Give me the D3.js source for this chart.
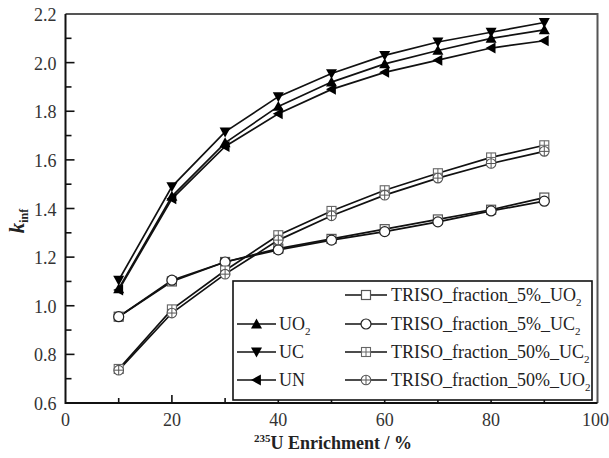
<!DOCTYPE html>
<html><head><meta charset="utf-8">
<script src="https://cdn.jsdelivr.net/npm/d3@7"></script>
<style>
html,body{margin:0;padding:0;background:#fff;}
svg{display:block;}
</style></head>
<body>
<svg id="chart" width="609" height="458"></svg>
<script>
const enrichment = [10,20,30,40,50,60,70,80,90];
const uo2  = [1.07, 1.45, 1.67, 1.82, 1.92, 1.995, 2.05, 2.10, 2.135];
const uc   = [1.105, 1.49, 1.715, 1.86, 1.955, 2.03, 2.085, 2.125, 2.165];
const un   = [1.065, 1.44, 1.655, 1.79, 1.89, 1.96, 2.01, 2.06, 2.09];
const triso5UO2  = [0.955, 1.10, 1.18, 1.235, 1.275, 1.315, 1.355, 1.395, 1.445];
const triso5UC2  = [0.955, 1.105, 1.18, 1.23, 1.27, 1.305, 1.345, 1.39, 1.43];
const triso50UC2 = [0.74, 0.985, 1.145, 1.29, 1.39, 1.475, 1.545, 1.61, 1.66];
const triso50UO2 = [0.735, 0.97, 1.13, 1.27, 1.37, 1.455, 1.525, 1.585, 1.635];
const xTicks = [0,20,40,60,80,100];
const yTicks = [0.6,0.8,1.0,1.2,1.4,1.6,1.8,2.0,2.2];

const series = [
  {name:"TRISO_fraction_5%_UO", sub:"2", vals:triso5UO2, marker:"square"},
  {name:"TRISO_fraction_5%_UC", sub:"2", vals:triso5UC2, marker:"circle"},
  {name:"TRISO_fraction_50%_UC", sub:"2", vals:triso50UC2, marker:"squarePlus"},
  {name:"TRISO_fraction_50%_UO", sub:"2", vals:triso50UO2, marker:"circlePlus"},
  {name:"UO", sub:"2", vals:uo2, marker:"triUp"},
  {name:"UC", sub:"", vals:uc, marker:"triDown"},
  {name:"UN", sub:"", vals:un, marker:"triLeft"}
];

const FONT = '"Liberation Serif"';
const svg = d3.select("#chart");
const L=65.5, R=597.5, T=14, B=403;
const x = d3.scaleLinear().domain([0,100]).range([L,R]);
const y = d3.scaleLinear().domain([0.6,2.2]).range([B,T]);

function drawMarker(g, type, cx, cy){
  const s=5.5;
  if(type==="triUp"){
    g.append("path").attr("d",`M${cx},${cy-s}L${cx+s},${cy+s*0.8}L${cx-s},${cy+s*0.8}Z`).attr("fill","#000");
  } else if(type==="triDown"){
    g.append("path").attr("d",`M${cx},${cy+s}L${cx+s},${cy-s*0.8}L${cx-s},${cy-s*0.8}Z`).attr("fill","#000");
  } else if(type==="triLeft"){
    g.append("path").attr("d",`M${cx-s},${cy}L${cx+s*0.8},${cy-s}L${cx+s*0.8},${cy+s}Z`).attr("fill","#000");
  } else if(type==="circle"){
    g.append("circle").attr("cx",cx).attr("cy",cy).attr("r",5).attr("fill","#fff").attr("stroke","#222").attr("stroke-width",1.2);
  } else if(type==="square"){
    g.append("rect").attr("x",cx-4.5).attr("y",cy-4.5).attr("width",9).attr("height",9).attr("fill","#fff").attr("stroke","#555").attr("stroke-width",1.2);
  } else if(type==="squarePlus"){
    g.append("rect").attr("x",cx-4.5).attr("y",cy-4.5).attr("width",9).attr("height",9).attr("fill","#fff").attr("stroke","#666").attr("stroke-width",1.1);
    g.append("path").attr("d",`M${cx-4.5},${cy}H${cx+4.5}M${cx},${cy-4.5}V${cy+4.5}`).attr("stroke","#666").attr("stroke-width",1);
  } else if(type==="circlePlus"){
    g.append("circle").attr("cx",cx).attr("cy",cy).attr("r",4.8).attr("fill","#fff").attr("stroke","#555").attr("stroke-width",1.1);
    g.append("path").attr("d",`M${cx-4.8},${cy}H${cx+4.8}M${cx},${cy-4.8}V${cy+4.8}`).attr("stroke","#555").attr("stroke-width",1);
  }
}

// x axis: inward ticks
const gx = svg.append("g").attr("transform",`translate(0,${B})`);
gx.selectAll("line.t").data(d3.range(10,100,10)).join("line")
  .attr("x1",d=>x(d)).attr("x2",d=>x(d)).attr("y1",0).attr("y2",d=>d%20===0?-8:-5)
  .attr("stroke","#111").attr("stroke-width",1.6);
gx.selectAll("text").data(xTicks).join("text")
  .attr("x",d=>d===100?609:x(d)).attr("y",23).attr("text-anchor",d=>d===100?"end":"middle")
  .style("font-family",FONT).attr("font-size",18).attr("fill","#333").text(d=>d);

// y axis: inward ticks
const gy = svg.append("g").attr("transform",`translate(${L},0)`);
const yMinor = d3.range(7,22,1).map(v=>v/10);
gy.selectAll("line.t").data(yMinor).join("line")
  .attr("x1",0).attr("x2",d=>Math.round(d*10)%2===0?9:6).attr("y1",d=>y(d)).attr("y2",d=>y(d))
  .attr("stroke","#111").attr("stroke-width",1.6);
gy.selectAll("text").data(yTicks).join("text")
  .attr("x",-9).attr("y",d=>y(d)+7).attr("text-anchor","end")
  .style("font-family",FONT).attr("font-size",18).attr("fill","#333").text(d=>d.toFixed(1));

// lines & markers
const line = d3.line().x((d,i)=>x(enrichment[i])).y(d=>y(d));
const plot = svg.append("g");
series.forEach(s=>{
  plot.append("path").attr("d",line(s.vals)).attr("fill","none").attr("stroke","#111").attr("stroke-width",1.7);
});
series.forEach(s=>{
  const g = plot.append("g");
  s.vals.forEach((v,i)=>drawMarker(g,s.marker,x(enrichment[i]),y(v)));
});

// legend
const lg = svg.append("g");
lg.append("rect").attr("x",233).attr("y",281).attr("width",359).attr("height",119)
  .attr("fill","#fff").attr("stroke","#111").attr("stroke-width",1.6);
const rowsY=[295,324,352,380];
const leftItems=[series[4],series[5],series[6]];
const rightItems=[series[0],series[1],series[2],series[3]];
function legendItem(s, x0, x1, tx, ly){
  lg.append("line").attr("x1",x0).attr("x2",x1).attr("y1",ly).attr("y2",ly).attr("stroke","#111").attr("stroke-width",1.7);
  const g=lg.append("g");
  drawMarker(g,s.marker,(x0+x1)/2,ly);
  const t=lg.append("text").attr("x",tx).attr("y",ly+6).style("font-family",FONT).attr("font-size",18).attr("fill","#222");
  t.append("tspan").text(s.name);
  if(s.sub) t.append("tspan").attr("font-size",11).attr("dy",5).text(s.sub);
}
leftItems.forEach((s,i)=>legendItem(s,237,276,279,rowsY[i+1]));
rightItems.forEach((s,i)=>legendItem(s,345,387,391,rowsY[i]));

// frame
svg.append("path").attr("d",`M${L},${T}H${R}V${B}`).attr("fill","none").attr("stroke","#555").attr("stroke-width",2);
svg.append("path").attr("d",`M${L},${T}V${B}H${R}`).attr("fill","none").attr("stroke","#111").attr("stroke-width",2);

// axis titles
const xt = svg.append("text").attr("x",333).attr("y",449).attr("text-anchor","middle")
  .style("font-family",FONT).attr("font-size",18).attr("font-weight","bold").attr("fill","#222");
xt.append("tspan").attr("font-size",11).attr("dy",-7).text("235");
xt.append("tspan").attr("dy",7).text("U Enrichment / %");

const yt = svg.append("text").attr("transform","translate(24,221) rotate(-90)").attr("text-anchor","middle")
  .style("font-family",FONT).attr("font-weight","bold").attr("fill","#222");
yt.append("tspan").attr("font-size",21).attr("font-style","italic").text("k");
yt.append("tspan").attr("font-size",12).attr("dy",4).text("inf");
</script>
</body></html>
